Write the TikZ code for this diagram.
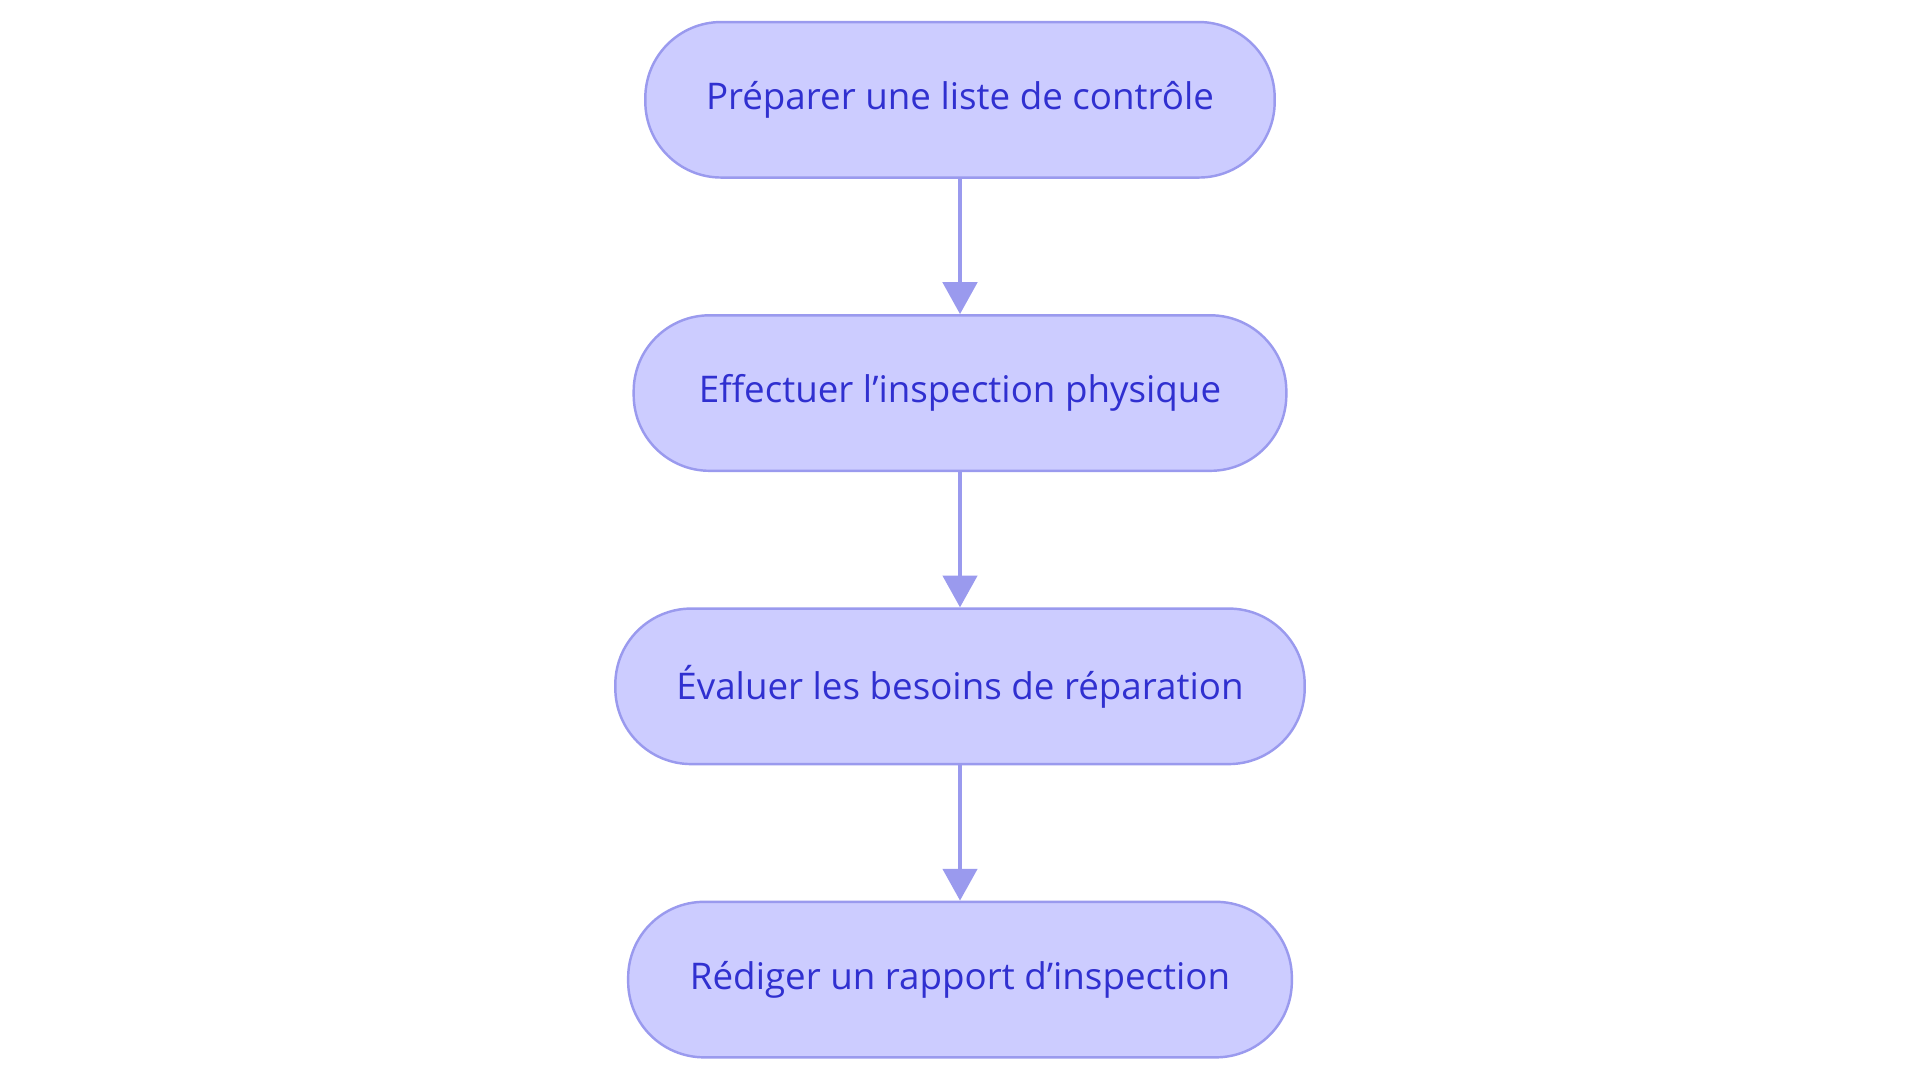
\documentclass[tikz,border=0pt]{standalone}
\usepackage{fontspec}
\setmainfont{Open Sans}
\usetikzlibrary{arrows.meta}
\definecolor{boxfill}{HTML}{CCCCFF}
\definecolor{boxline}{HTML}{9A9AEE}
\definecolor{boxtext}{HTML}{3030D0}
\newcommand{\apos}{{\char"0027}}
\begin{document}
\begin{tikzpicture}[x=0.5pt,y=0.5pt,
        stage/.style={draw=boxline,fill=boxfill,line width=1pt,rounded corners=31pt,
            minimum height=63.5pt,text=boxtext,font=\fontsize{15}{18}\selectfont},
        flow/.style={draw=boxline,line width=1.6pt,-{Triangle[length=13pt,width=14pt]}}]
    \useasboundingbox (0,0) rectangle (1568,884);
    \node[stage,minimum width=257pt] (prep) at (784,802.5) {Préparer une liste de contrôle};
    \node[stage,minimum width=266.5pt] (insp) at (784,563) {Effectuer l\apos inspection physique};
    \node[stage,minimum width=281.5pt] (eval) at (784,323.5) {Évaluer les besoins de réparation};
    \node[stage,minimum width=271pt] (rapp) at (784,84) {Rédiger un rapport d\apos inspection};
    \draw[flow] (prep) -- (insp);
    \draw[flow] (insp) -- (eval);
    \draw[flow] (eval) -- (rapp);
\end{tikzpicture}
\end{document}
